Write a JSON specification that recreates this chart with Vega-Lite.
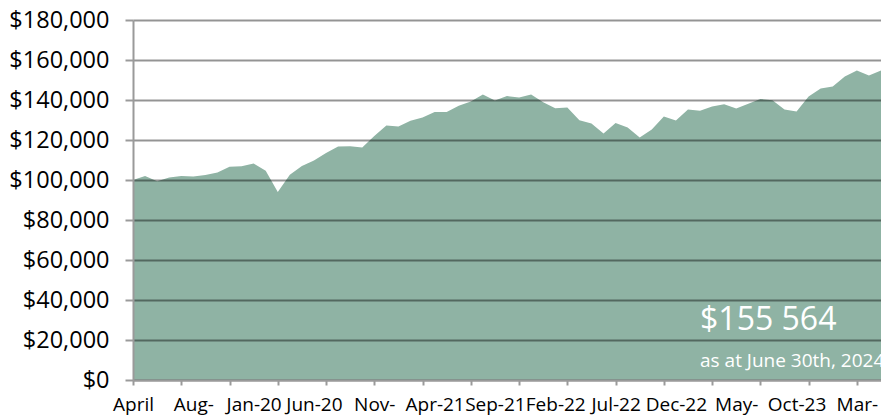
{
  "$schema": "https://vega.github.io/schema/vega-lite/v6.json",
  "width": 748,
  "height": 360,
  "autosize": {"type": "none"},
  "padding": {"left": 133, "top": 20, "right": 0, "bottom": 39},
  "background": "white",
  "config": {"view": {"stroke": null}, "font": "Open Sans"},
  "datasets": {
    "series": [
      {"month": "April", "value": 100000},
      {"month": "Apr-19", "value": 102000},
      {"month": "May-19", "value": 99400},
      {"month": "Jun-19", "value": 101200},
      {"month": "Jul-19", "value": 102000},
      {"month": "Aug-19", "value": 101800},
      {"month": "Sep-19", "value": 102500},
      {"month": "Oct-19", "value": 103700},
      {"month": "Nov-19", "value": 106600},
      {"month": "Dec-19", "value": 106900},
      {"month": "Jan-20", "value": 108200},
      {"month": "Feb-20", "value": 104600},
      {"month": "Mar-20", "value": 94000},
      {"month": "Apr-20", "value": 102600},
      {"month": "May-20", "value": 107000},
      {"month": "Jun-20", "value": 109800},
      {"month": "Jul-20", "value": 113500},
      {"month": "Aug-20", "value": 116700},
      {"month": "Sep-20", "value": 116900},
      {"month": "Oct-20", "value": 116200},
      {"month": "Nov-20", "value": 122000},
      {"month": "Dec-20", "value": 127200},
      {"month": "Jan-21", "value": 126700},
      {"month": "Feb-21", "value": 129600},
      {"month": "Mar-21", "value": 131300},
      {"month": "Apr-21", "value": 134000},
      {"month": "May-21", "value": 134000},
      {"month": "Jun-21", "value": 137100},
      {"month": "Jul-21", "value": 139200},
      {"month": "Aug-21", "value": 142800},
      {"month": "Sep-21", "value": 139800},
      {"month": "Oct-21", "value": 142000},
      {"month": "Nov-21", "value": 141200},
      {"month": "Dec-21", "value": 142800},
      {"month": "Jan-22", "value": 138900},
      {"month": "Feb-22", "value": 135900},
      {"month": "Mar-22", "value": 136200},
      {"month": "Apr-22", "value": 129900},
      {"month": "May-22", "value": 128200},
      {"month": "Jun-22", "value": 123200},
      {"month": "Jul-22", "value": 128500},
      {"month": "Aug-22", "value": 126300},
      {"month": "Sep-22", "value": 121200},
      {"month": "Oct-22", "value": 125300},
      {"month": "Nov-22", "value": 131700},
      {"month": "Dec-22", "value": 129700},
      {"month": "Jan-23", "value": 135300},
      {"month": "Feb-23", "value": 134600},
      {"month": "Mar-23", "value": 136700},
      {"month": "Apr-23", "value": 137900},
      {"month": "May-23", "value": 135800},
      {"month": "Jun-23", "value": 138100},
      {"month": "Jul-23", "value": 140500},
      {"month": "Aug-23", "value": 139900},
      {"month": "Sep-23", "value": 135300},
      {"month": "Oct-23", "value": 134200},
      {"month": "Nov-23", "value": 141800},
      {"month": "Dec-23", "value": 145800},
      {"month": "Jan-24", "value": 146700},
      {"month": "Feb-24", "value": 151700},
      {"month": "Mar-24", "value": 154700},
      {"month": "Apr-24", "value": 152200},
      {"month": "May-24", "value": 154700}
    ]
  },
  "encoding": {
    "x": {
      "field": "month",
      "type": "ordinal",
      "sort": null,
      "scale": {"type": "point", "padding": 0},
      "axis": {
        "title": null,
        "zindex": 1,
        "grid": false,
        "labelAngle": 0,
        "labelOverlap": false,
        "labelFont": "Open Sans",
        "labelFontSize": 19,
        "labelColor": "#000000",
        "labelPadding": 10,
        "tickSize": 5,
        "tickWidth": 2,
        "tickColor": "#9a9a9a",
        "tickOpacity": {
          "condition": {
            "test": "indexof(['April','Jul-19','Nov-19','Mar-20','Jul-20','Nov-20','Mar-21','Jul-21','Nov-21','Mar-22','Jul-22','Nov-22','Mar-23','Jul-23','Nov-23','Mar-24'], datum.value) >= 0",
            "value": 1
          },
          "value": 0
        },
        "domainColor": "#9a9a9a",
        "domainWidth": 2,
        "values": ["April","Jul-19","Aug-19","Nov-19","Jan-20","Mar-20","Jun-20","Jul-20","Nov-20","Mar-21","Apr-21","Jul-21","Sep-21","Nov-21","Feb-22","Mar-22","Jul-22","Nov-22","Dec-22","Mar-23","May-23","Jul-23","Oct-23","Nov-23","Mar-24"],
        "labelExpr": "indexof(['April','Aug-19','Jan-20','Jun-20','Nov-20','Apr-21','Sep-21','Feb-22','Jul-22','Dec-22','May-23','Oct-23','Mar-24'], datum.value) < 0 ? '' : ((datum.value == 'Aug-19' || datum.value == 'Nov-20' || datum.value == 'May-23' || datum.value == 'Mar-24') ? slice(datum.value, 0, 4) : datum.value)"
      }
    },
    "y": {
      "field": "value",
      "type": "quantitative",
      "scale": {"domain": [0, 180000], "nice": false, "zero": true},
      "axis": {
        "title": null,
        "zindex": 1,
        "values": [0, 20000, 40000, 60000, 80000, 100000, 120000, 140000, 160000, 180000],
        "format": "$,.0f",
        "labelOverlap": false,
        "labelFont": "Open Sans",
        "labelFontSize": 23.5,
        "labelColor": "#000000",
        "labelPadding": 16,
        "tickSize": 8,
        "tickWidth": 2,
        "tickColor": "#9a9a9a",
        "domainColor": "#9a9a9a",
        "domainWidth": 2,
        "grid": true,
        "gridColor": "#000000",
        "gridOpacity": 0.42,
        "gridWidth": 2
      }
    }
  },
  "layer": [
    {
      "data": {"name": "series"},
      "mark": {"type": "area", "color": "#8fb3a4", "opacity": 1}
    },
    {
      "data": {"values": [{"month": "Feb-23", "value": 25000, "note": "$155 564"}]},
      "mark": {"type": "text", "align": "left", "baseline": "alphabetic", "font": "Open Sans", "fontSize": 32, "color": "#ffffff"},
      "encoding": {"text": {"field": "note"}}
    },
    {
      "data": {"values": [{"month": "Feb-23", "value": 6500, "note": "as at June 30th, 2024"}]},
      "mark": {"type": "text", "align": "left", "baseline": "alphabetic", "font": "Open Sans", "fontSize": 19, "color": "#ffffff"},
      "encoding": {"text": {"field": "note"}}
    }
  ]
}
